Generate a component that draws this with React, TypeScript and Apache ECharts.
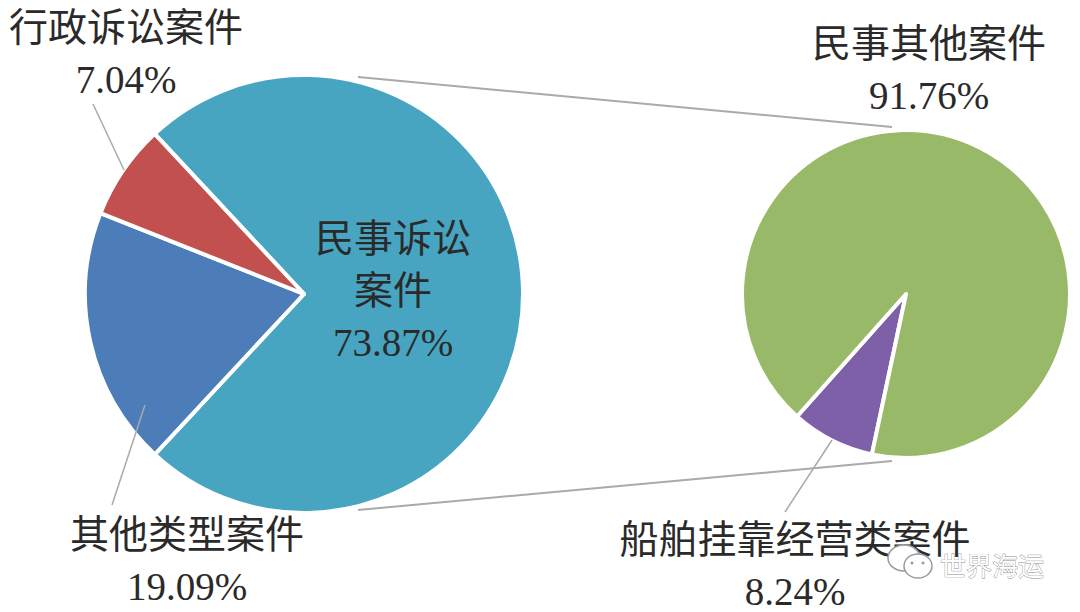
import React, { useEffect, useRef } from "react";
import * as echarts from "echarts";

const leftNames = ["民事诉讼\n案件", "其他类型案件", "行政诉讼案件"];
const leftValues = [73.87, 19.09, 7.04];
const leftColors = ["#47a5c2", "#4d7db8", "#c1504f"];
const rightNames = ["船舶挂靠经营类案件", "民事其他案件"];
const rightValues = [8.24, 91.76];
const rightColors = ["#7d60a8", "#98ba68"];
const watermark = "世界海运";

const INK = "#2a2a2a";
const LINE = "#a9a9ae";
const MARK = "#9a9a9a";
const CJK = '"Liberation Serif", "Noto Sans CJK SC", serif';

const leftPos: Record<string, [number, number]> = {
  "民事诉讼\n案件": [393, 290],
  "其他类型案件": [187, 560],
  "行政诉讼案件": [126, 53],
};
const rightPos: Record<string, [number, number]> = {
  "船舶挂靠经营类案件": [795, 565],
  "民事其他案件": [929, 69],
};

function pie(
  names: string[],
  values: number[],
  colors: string[],
  center: [number, number],
  radius: number,
  startAngle: number,
  pos: Record<string, [number, number]>,
) {
  return {
    type: "pie",
    center,
    radius,
    startAngle,
    clockwise: true,
    silent: true,
    itemStyle: { borderColor: "#ffffff", borderWidth: 4 },
    labelLine: { show: false },
    label: {
      show: true,
      formatter: (p: any) => `${p.name}\n${p.value.toFixed(2)}%`,
      color: INK,
      fontSize: 39,
      lineHeight: 52,
      fontFamily: CJK,
      align: "center",
      overflow: "none",
      width: 500,
    },
    labelLayout: (p: any) => {
      const name = names[p.dataIndex];
      const [x, y] = pos[name];
      return { x, y, align: "center", verticalAlign: "middle" };
    },
    data: names.map((name, i) => ({ name, value: values[i], itemStyle: { color: colors[i] } })),
  };
}

const line = (x1: number, y1: number, x2: number, y2: number, lineWidth = 1.5) => ({
  type: "line",
  shape: { x1, y1, x2, y2 },
  style: { stroke: LINE, lineWidth },
  z: 10,
});

const bubble = (cx: number, cy: number, rx: number, ry: number) => ({
  type: "ellipse",
  shape: { cx, cy, rx, ry },
  style: { fill: "#ffffff", stroke: MARK, lineWidth: 1.5 },
  z: 20,
});
const dot = (cx: number, cy: number) => ({
  type: "circle",
  shape: { cx, cy, r: 1.5 },
  style: { fill: MARK },
  z: 21,
});

export default function App() {
  const ref = useRef<HTMLDivElement>(null);
  useEffect(() => {
    const chart = echarts.init(ref.current!, undefined, { renderer: "svg" });
    chart.setOption({
      animation: false,
      backgroundColor: "#ffffff",
      series: [
        pie(leftNames, leftValues, leftColors, [304, 294], 219, 133, leftPos),
        pie(rightNames, rightValues, rightColors, [906, 294], 164, -102, rightPos),
      ],
      graphic: [
        line(358, 77, 892, 127, 2),
        line(358, 510, 892, 461, 2),
        line(93, 104, 124, 170),
        line(145, 405, 112, 505),
        line(832, 440, 785, 512),
        bubble(904, 558, 16, 13),
        bubble(918, 566, 14, 12),
        dot(912, 563),
        dot(923, 563),
        {
          type: "text",
          x: 940,
          y: 564,
          z: 20,
          style: {
            text: watermark,
            fill: "#ffffff",
            stroke: "#8c8c8c",
            lineWidth: 0.8,
            font: '26px "Noto Sans CJK SC"',
            verticalAlign: "middle",
          },
        },
      ],
    });
    return () => chart.dispose();
  }, []);
  return <div ref={ref} style={{ position: "fixed", left: 0, top: 0, width: 1080, height: 612 }} />;
}
